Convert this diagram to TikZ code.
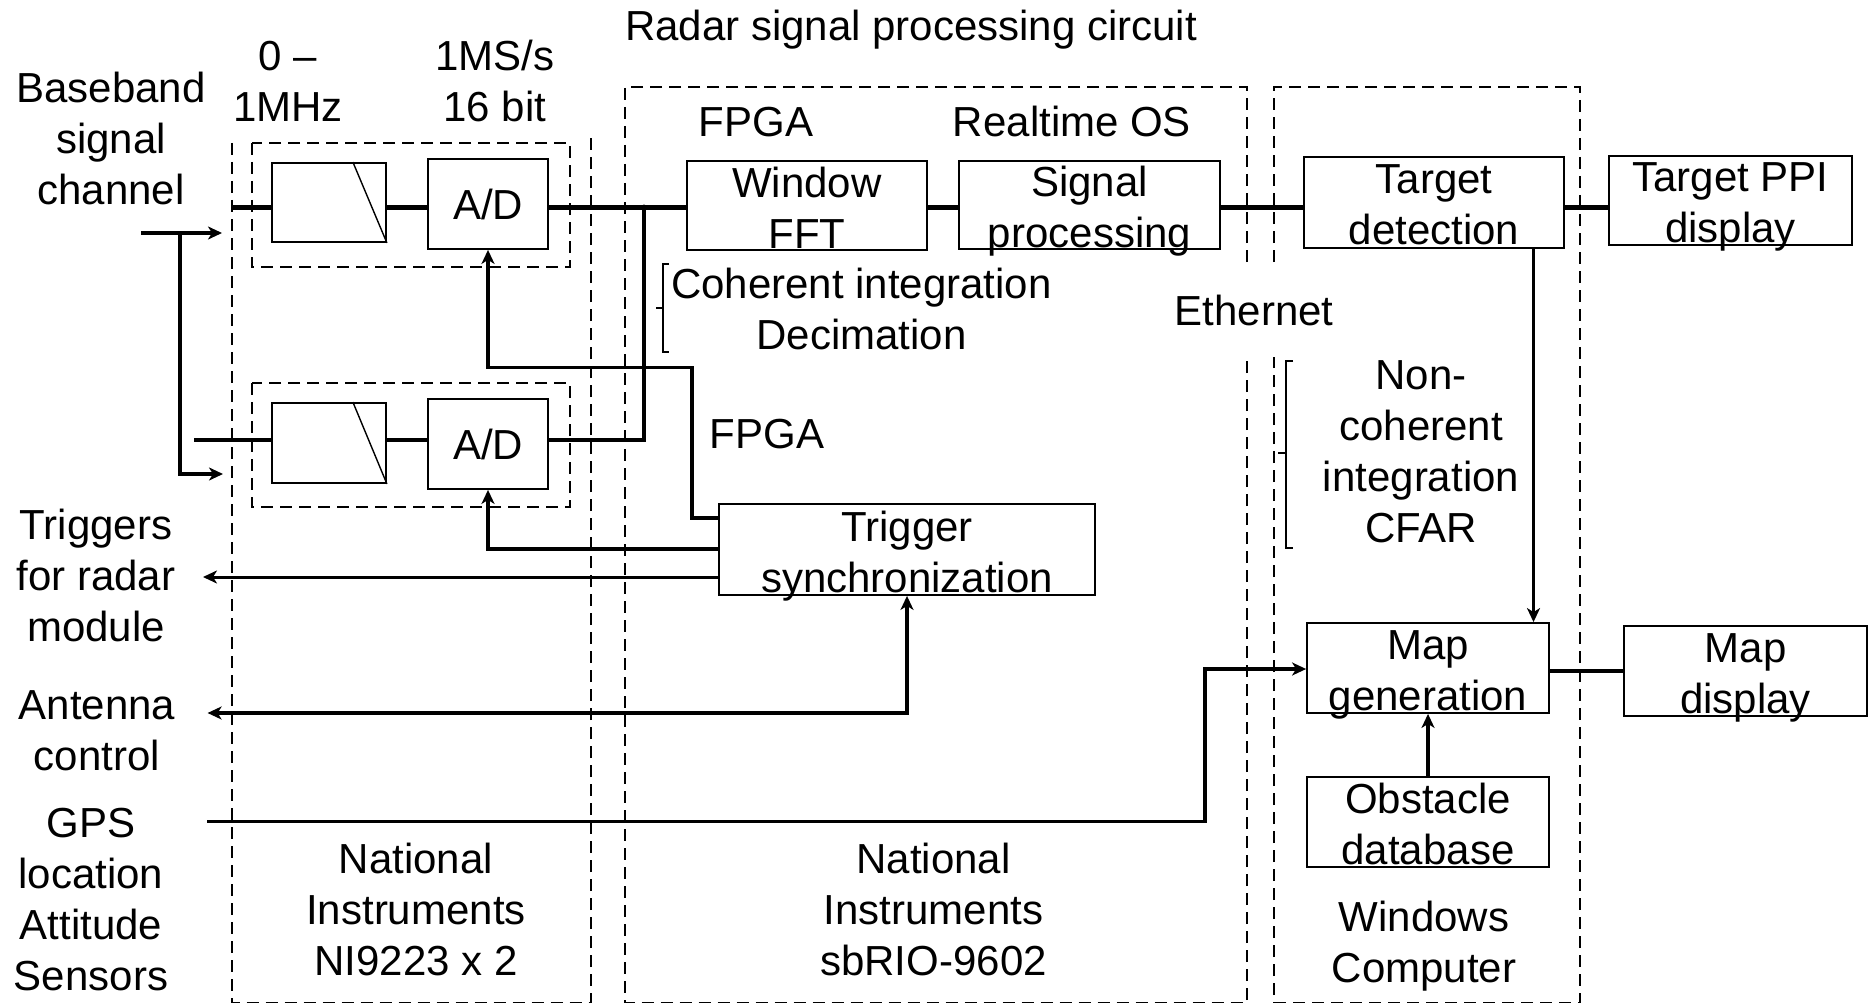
\documentclass[tikz,border=0pt]{standalone}
\usepackage{fontspec}
\setmainfont{Liberation Sans}
\usetikzlibrary{arrows.meta}
% fixed line box: every text line gets the same ascent and descent
\newcommand\linestrut{\vrule height 41.3pt depth 9.7pt width 0pt}

\begin{document}
\begin{tikzpicture}[x=1pt,y=-1pt,
  txt/.style={font=\fontsize{42}{51}\selectfont, align=center, inner sep=0pt,
    execute at begin node=\linestrut, execute at end node=\linestrut},
  mtxt/.style={txt, yshift=-7pt},
  blk/.style={draw, line width=1.8pt, inner sep=0pt},
  grp/.style={line width=1.6pt, dash pattern=on 12pt off 7pt},
  sig/.style={line width=4.5pt},
  conn/.style={line width=3.5pt},
  thinc/.style={line width=3pt},
  brk/.style={line width=1.4pt},
  arr/.style={-{Stealth[length=14pt,width=13pt,inset=4pt]}},
  arrboth/.style={{Stealth[length=14pt,width=13pt,inset=4pt]}-{Stealth[length=14pt,width=13pt,inset=4pt]}}
]
\useasboundingbox[fill=white] (0,0) rectangle (1870,1003);

% hardware groups
\draw[grp] (232,143) -- (232,1002.5) -- (591,1002.5) -- (591,137);
\draw[grp] (252,143) rectangle (570,267);
\draw[grp] (252,383) rectangle (570,507);
\draw[grp] (1247,262) -- (1247,87) -- (625,87) -- (625,1002.5) -- (1247,1002.5) -- (1247,357);
\draw[grp] (1274,262) -- (1274,87) -- (1580,87) -- (1580,1002.5) -- (1274,1002.5) -- (1274,357);

% blocks
\node[blk, minimum width=114, minimum height=79] (flt1) at (329,202.5) {};
\node[blk, minimum width=120, minimum height=90] (adc1) at (488,204) {};
\node[blk, minimum width=114, minimum height=80] (flt2) at (329,443) {};
\node[blk, minimum width=120, minimum height=90] (adc2) at (488,444) {};
\node[blk, minimum width=240, minimum height=89] (fft) at (807,205.5) {};
\node[blk, minimum width=261, minimum height=88] (sp) at (1089.5,205) {};
\node[blk, minimum width=260, minimum height=91] (td) at (1434,202.5) {};
\node[blk, minimum width=243, minimum height=89] (ppi) at (1730.5,200.5) {};
\node[blk, minimum width=376, minimum height=91] (trig) at (907,549.5) {};
\node[blk, minimum width=242, minimum height=90] (mapg) at (1428,668) {};
\node[blk, minimum width=243, minimum height=90] (mapd) at (1745.5,671) {};
\node[blk, minimum width=242, minimum height=90] (obs) at (1428,822) {};

% low-pass symbol inside the filters
\draw[brk] ([xshift=-34pt]flt1.north east) -- (flt1.south east);
\draw[brk] ([xshift=-34pt]flt2.north east) -- (flt2.south east);

% block texts
\node[txt] (adc1t) at (adc1) {A/D};
\node[txt] (adc2t) at (adc2) {A/D};
\node[mtxt] (fftt) at (fft) {Window\\FFT};
\node[mtxt] (spt) at (sp) {Signal\\processing};
\node[mtxt] (tdt) at (td) {Target\\detection};
\node[mtxt] (ppit) at (ppi) {Target PPI\\display};
\node[mtxt] (trigt) at (trig) {Trigger\\synchronization};
\node[mtxt] (mapgt) at (mapg) {Map\\generation};
\node[mtxt] (mapdt) at (mapd) {Map\\display};
\node[mtxt] (obst) at (obs) {Obstacle\\database};

% free labels
\node[txt] (title) at (911,25.2) {Radar signal processing circuit};
\node[mtxt] (bw) at (288,78.7) {0 –\\1MHz};
\node[mtxt] (rate) at (495,78.7) {1MS/s\\16 bit};
\node[mtxt] (bb) at (111,135.9) {Baseband\\signal\\channel};
\node[txt] (fpga1) at (756,121.2) {FPGA};
\node[txt] (rtos) at (1072,121.2) {Realtime OS};
\node[mtxt] (coh) at (861.5,306.7) {Coherent integration\\Decimation};
\node[txt] (eth) at (1254,309.2) {Ethernet};
\node[txt] (fpga2) at (767,432.2) {FPGA};
\node[mtxt] (ncoh) at (1421,449) {Non-\\coherent\\integration\\CFAR};
\node[mtxt] (trg) at (96,573.5) {Triggers\\for radar\\module};
\node[mtxt] (ant) at (97,728) {Antenna\\control};
\node[mtxt] (gps) at (91,897.4) {GPS\\location\\Attitude\\Sensors};
\node[mtxt] (ni1) at (416,906.9) {National\\Instruments\\NI9223 x 2};
\node[mtxt] (ni2) at (933.5,906.9) {National\\Instruments\\sbRIO-9602};
\node[mtxt] (win) at (1424,939.7) {Windows\\Computer};

% brackets
\draw[brk] (669,264) -- (663,264) -- (663,352) -- (669,352) (663,308) -- (656,308);
\draw[brk] (1293,361) -- (1286,361) -- (1286,548) -- (1293,548) (1286,453) -- (1278,453);

% helper coordinates
\coordinate (bbin) at (141,233);
\coordinate (in1) at (222,233);
\coordinate (split) at (180,233);
\coordinate (in2) at (223,474);
\coordinate (ch1) at (233,207.5);
\coordinate (ch2) at (194,440);
\coordinate (jn) at (644,207.5);
\coordinate (tA) at (692,367.5);
\coordinate (yT1) at (0,518);
\coordinate (yT2) at (0,549);
\coordinate (yT3) at (0,577);
\coordinate (trgout) at (203,577);
\coordinate (antout) at (207.6,713);
\coordinate (gpsin) at (207,821.5);
\coordinate (gpsb) at (1205,821.5);
\coordinate (ymg) at (0,669);
\coordinate (ymd) at (0,671);
\coordinate (xd) at (1533.5,0);

% baseband input split
\draw[conn, arr] (bbin) -- (in1);
\draw[conn, arr] (split) |- (in2);

% signal chain
\draw[sig] (ch1) -- (flt1.west |- ch1);
\draw[sig] (ch2) -- (flt2.west |- ch2);
\draw[sig] (flt1.east |- ch1) -- (adc1.west |- ch1);
\draw[sig] (flt2.east |- ch2) -- (adc2.west |- ch2);
\draw[sig] (adc1.east |- ch1) -- (fft.west |- ch1);
\draw[sig] (adc2.east |- ch2) -| (jn);
\fill (jn) circle (3);
\draw[sig] (fft.east |- ch1) -- (sp.west |- ch1);
\draw[sig] (sp.east |- ch1) -- (td.west |- ch1);
\draw[sig] (td.east |- ch1) -- (ppi.west |- ch1);

% trigger distribution
\draw[conn, arr] (trig.west |- yT1) -| (tA) -| (adc1.south);
\draw[conn, arr] (trig.west |- yT2) -| (adc2.south);
\draw[thinc, arr] (trig.west |- yT3) -- (trgout);
\draw[conn, arrboth] (antout) -| (trig.south);

% map generation
\draw[conn, arr] (gpsin) -- (gpsb) |- (mapg.west |- ymg);
\draw[conn, arr] (td.south -| xd) -- (mapg.north -| xd);
\draw[conn, arr] (obs.north) -- (mapg.south);
\draw[sig] (mapg.east |- ymd) -- (mapd.west |- ymd);
\end{tikzpicture}
\end{document}
